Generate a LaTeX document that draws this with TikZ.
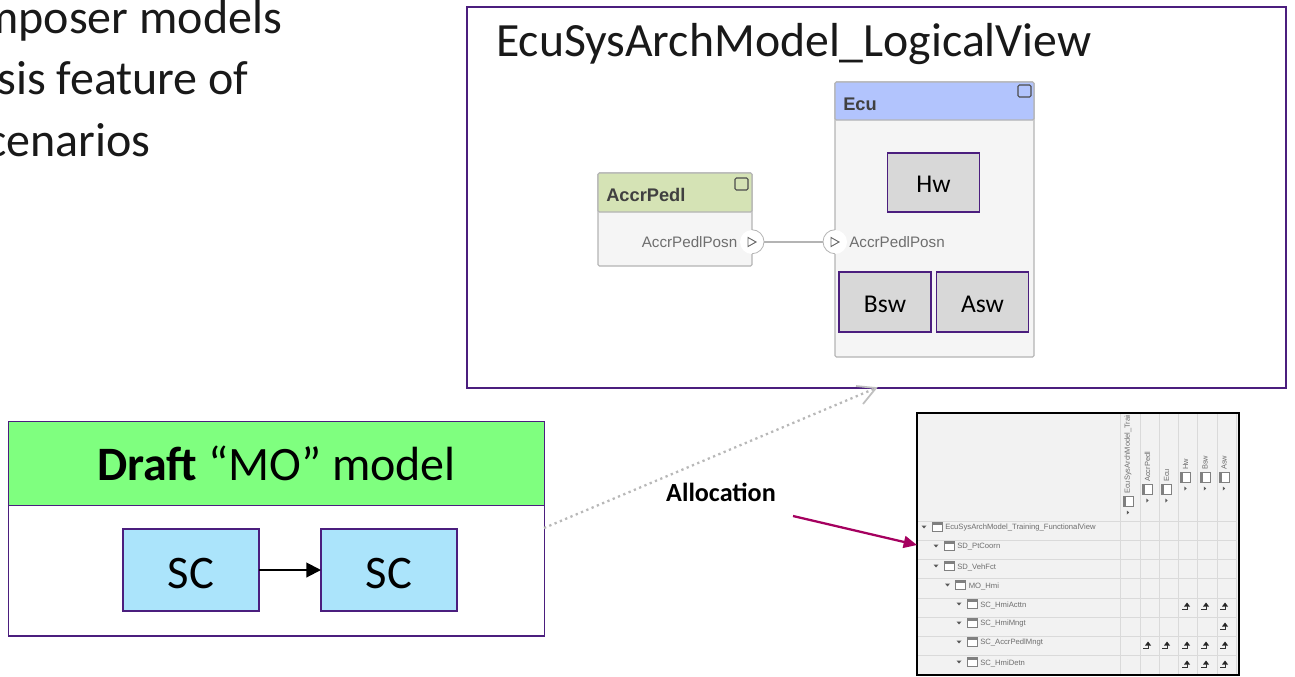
\documentclass[tikz,border=0pt]{standalone}
\usepackage{fontspec}
\setmainfont{Carlito}
\newfontfamily\appfont{Liberation Sans}
\usetikzlibrary{arrows.meta,calc}
\definecolor{frame}{HTML}{4B1E7E}
\definecolor{apptext}{HTML}{6E6E6E}
\definecolor{appedge}{HTML}{B4B4B4}
\definecolor{matline}{HTML}{DADADA}
\tikzset{
  px/.style={x=0.75pt,y=-0.75pt},
  framebox/.style={draw=frame,line width=1.35pt,inner sep=0pt,outer sep=0pt},
  innerbox/.style={framebox,fill=boxgray,minimum width=69pt,minimum height=44.5pt,font=\fontsize{19.2}{22}\selectfont},
  scbox/.style={framebox,fill=scblue,minimum width=102pt,minimum height=61.5pt,font=\fontsize{35}{38}\selectfont},
  blockbody/.style={draw=appedge,line width=0.8pt,fill=appbody,rounded corners=1pt},
  porttext/.style={font=\appfont\fontsize{11.4}{13}\selectfont,text=apptext,inner sep=0pt},
  blocktitle/.style={font=\appfont\bfseries\fontsize{13.7}{15}\selectfont,text=black!75,inner sep=0pt,anchor=west},
  portdisc/.style={circle,fill=white,minimum size=18pt,inner sep=0pt},
  porttri/.style={draw=black!60,line width=0.7pt,fill=white},
  lefttext/.style={font=\fontsize{36}{42}\selectfont,inner sep=0pt,anchor=base west,text=black!90},
  rowtext/.style={font=\appfont\fontsize{5.75}{7}\selectfont,text=apptext,inner sep=0pt,anchor=west},
  coltext/.style={font=\appfont\fontsize{5.6}{7}\selectfont,text=apptext,inner sep=0pt,anchor=west,rotate=90},
}
\definecolor{boxgray}{HTML}{D8D8D8}
\definecolor{scblue}{HTML}{ABE4FB}
\definecolor{appbody}{HTML}{F5F5F5}
\definecolor{greenhead}{HTML}{D5E3B5}
\definecolor{bluehead}{HTML}{B2C4FD}
\definecolor{drafthead}{HTML}{7FFF7F}
\definecolor{magentaline}{HTML}{A5005F}
% tree row: x of triangle, y, text
\newcommand{\treerow}[4]{%
  \fill[black!65] (#1-2.5,#2-1.5) -- (#1+2.5,#2-1.5) -- (#1,#2+1.5) -- cycle;
  \draw[black!50,line width=0.4pt,fill=white] (#1+8,#2-4.5) rectangle (#1+18,#2+4.5);
  \fill[black!50] (#1+8,#2-4.5) rectangle (#1+18,#2-2.5);
  \node[rowtext] (#4) at (#1+21,#2+1) {#3};
}
% column head: x, icon y, text
\newcommand{\colhead}[4]{%
  \fill[black!65] (#1-1.2,#2+9.5) -- (#1+1.2,#2+11.5) -- (#1-1.2,#2+13.5) -- cycle;
  \draw[black!50,line width=0.4pt,fill=white] (#1-5,#2-5) rectangle (#1+5,#2+5);
  \fill[black!50] (#1-5,#2-5) rectangle (#1-2.5,#2+5);
  \node[coltext] (#4) at (#1,#2-7) {#3};
}
% allocation mark
\newcommand{\allocmark}[2]{%
  \fill[black!85] (#1,#2-3.5) -- (#1+3,#2+0.5) -- (#1-3,#2+0.5) -- cycle;
  \draw[black!80,line width=0.45pt] (#1,#2) -- (#1,#2+3.5) -- (#1-5,#2+3.5);
}
\newcommand{\lowered}[2]{\raisebox{#1}[0pt][0pt]{#2}}
\begin{document}
\begin{tikzpicture}[px]
\useasboundingbox (0,0) rectangle (1295,676);
\fill[white] (0,0) rectangle (1295,676);
% clipped text at left
\begin{scope}
\clip (0,0) rectangle (400,200);
\node[lefttext] (l1) at (-20,33) {mposer models};
\node[lefttext] (l2) at (-3,94) {sis feature of};
\node[lefttext] (l3) at (-14,156) {cenarios};
\end{scope}
% logical view
\node[framebox,minimum width=614.25pt,minimum height=285.75pt,anchor=north west] (view) at (467,7) {};
\node[inner sep=0pt,anchor=base west,font=\fontsize{35.8}{40}\selectfont,text=black!90] (viewt) at (496,56) {EcuSysArchModel\_LogicalView};
% AccrPedl block
\draw[blockbody] (598,173) rectangle (752,266);
\draw[draw=appedge,line width=0.8pt,fill=greenhead,rounded corners=1pt] (598,173) rectangle (752,212);
\node[blocktitle] (accr) at (606,195) {AccrPedl};
\draw[black!70,line width=0.8pt,rounded corners=1pt] (735,178) rectangle (748,190);
% Ecu block
\draw[blockbody] (835,82) rectangle (1034,357);
\draw[draw=appedge,line width=0.8pt,fill=bluehead,rounded corners=1pt] (835,82) rectangle (1034,120);
\node[blocktitle] (ecu) at (843,104) {Ecu};
\draw[black!70,line width=0.8pt,rounded corners=1pt] (1018,85) rectangle (1031,97);
% ports
\node[portdisc] (p1) at (752,242) {};
\node[portdisc] (p2) at (835,242) {};
\draw[appedge,line width=0.6pt] (p1.north) arc[start angle=-90,end angle=90,radius=12];
\draw[appedge,line width=0.6pt] (p2.north) arc[start angle=270,end angle=90,radius=12];
\draw[draw=appedge,line width=0.8pt] (p1) -- (p2);
\draw[porttri] (748,237.5) -- (756,242) -- (748,246.5) -- cycle;
\draw[porttri] (831,237.5) -- (839,242) -- (831,246.5) -- cycle;
\node[porttext,anchor=east] (p1t) at (737.5,242) {AccrPedlPosn};
\node[porttext,anchor=west] (p2t) at (849,242) {AccrPedlPosn};
% inner boxes
\node[innerbox] (hw) at (933.5,182.5) {\lowered{-7.5pt}{Hw}};
\node[innerbox] (bsw) at (885,302) {\lowered{-7.5pt}{Bsw}};
\node[innerbox] (asw) at (982.5,302) {\lowered{-7.5pt}{Asw}};
% draft model
\node[framebox,minimum width=402pt,minimum height=161pt,anchor=north west] (draft) at (8.5,421.5) {};
\node[framebox,fill=drafthead,minimum width=402pt,minimum height=63pt,anchor=north west,font=\fontsize{36}{40}\selectfont] (drafth) at (8.5,421.5) {\textbf{Draft} “MO” model};
\node[scbox] (sc1) at (191,570) {\lowered{-13.5pt}{SC}};
\node[scbox] (sc2) at (389,570) {\lowered{-13.5pt}{SC}};
\draw[-{Triangle[length=11pt,width=11pt]},line width=1.5pt] (sc1) -- (sc2);
% allocation connector
\coordinate (viewpt) at (876,388);
\coordinate (draftpt) at (544,528);
\draw[black!28,line width=1.7pt,dash pattern=on 1.7pt off 2.6pt] (draftpt) -- (viewpt);
\draw[black!25,line width=1.3pt] (856,386) -- (viewpt) -- (863,404);
\node[font=\bfseries\fontsize{19.6}{22}\selectfont,inner sep=0pt] (alloc) at (721,492) {Allocation};
% matrix
\fill[white] (917,413) rectangle (1239,675);
\fill[black!5] (918,414) rectangle (1238,674);
\foreach \y in {521,540,559,578,598,617,636,655} \draw[matline,line width=0.6pt] (918,\y) -- (1237,\y);
\foreach \x in {1120,1140,1159,1178,1197,1217,1236} \draw[matline,line width=0.6pt] (\x,414) -- (\x,674);
\treerow{924}{527}{EcuSysArchModel\_Training\_FunctionalView}{r1}
\treerow{936}{546}{SD\_PtCoorn}{r2}
\treerow{936}{566}{SD\_VehFct}{r3}
\treerow{947.5}{585}{MO\_Hmi}{r4}
\treerow{959}{604}{SC\_HmiActtn}{r5}
\treerow{959}{623}{SC\_HmiMngt}{r6}
\treerow{959}{642}{SC\_AccrPedlMngt}{r7}
\treerow{959}{662}{SC\_HmiDetn}{r8}
\begin{scope}
\clip (1120,415) rectangle (1238,521);
\colhead{1128}{501}{EcuSysArchModel\_Training\_FunctionalView}{c0}
\end{scope}
\colhead{1147.5}{489}{AccrPedl}{c1}
\colhead{1166.5}{489}{Ecu}{c2}
\colhead{1185.5}{477}{Hw}{c3}
\colhead{1205}{477}{Bsw}{c4}
\colhead{1224}{477}{Asw}{c5}
\foreach \x in {1187,1206,1225} {\allocmark{\x}{606}\allocmark{\x}{645}\allocmark{\x}{664}}
\allocmark{1225}{626}
\allocmark{1148}{645}
\allocmark{1167}{645}
\draw[black,line width=1.4pt] (917,413) rectangle (1239,675);
\coordinate (allocarrow) at (793,516);
\coordinate (matrixpt) at (917,545);
\draw[magentaline,line width=1.7pt,-{Triangle[length=10pt,width=9pt]}] (allocarrow) -- (matrixpt);
\end{tikzpicture}
\end{document}
